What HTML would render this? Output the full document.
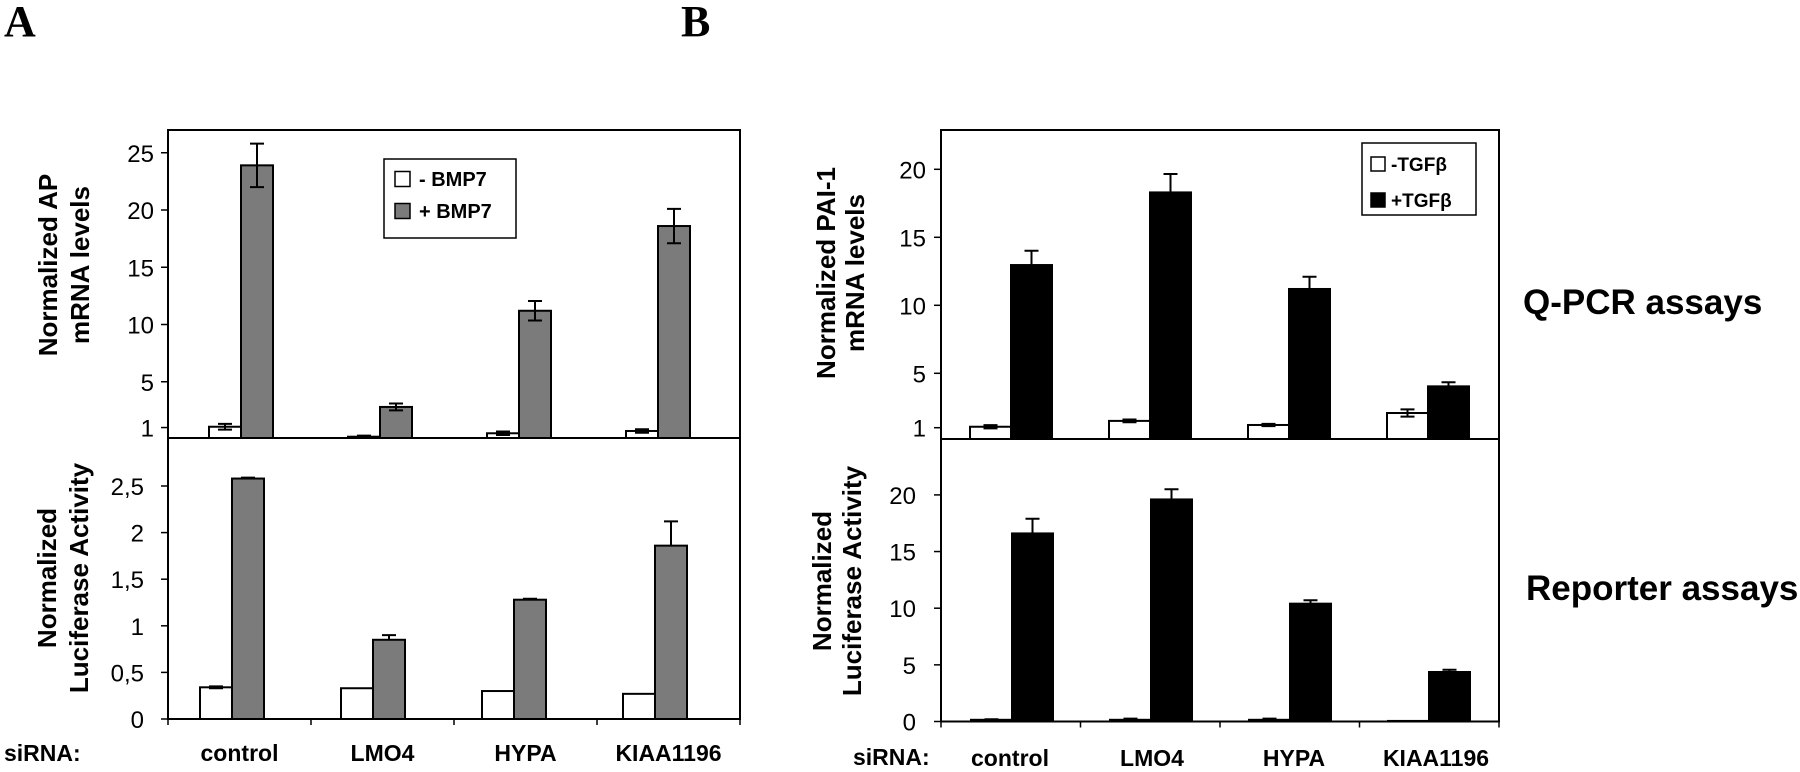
<!DOCTYPE html>
<html><head><meta charset="utf-8"><style>
html,body{margin:0;padding:0;background:#fff;}
svg{display:block;font-family:"Liberation Sans",Arial,sans-serif;}
</style></head><body>
<svg id="fig" width="1800" height="772" viewBox="0 0 1800 772" xmlns="http://www.w3.org/2000/svg">
<text x="4" y="36" font-family="Liberation Serif,serif" font-weight="bold" font-size="44">A</text>
<text x="681" y="36" font-family="Liberation Serif,serif" font-weight="bold" font-size="44">B</text>
<text font-weight="bold" font-size="26" text-anchor="middle" transform="translate(57,265) rotate(-90)">Normalized AP</text>
<text font-weight="bold" font-size="26" text-anchor="middle" transform="translate(89,265) rotate(-90)">mRNA levels</text>
<text font-weight="bold" font-size="26" text-anchor="middle" transform="translate(56,578) rotate(-90)">Normalized</text>
<text font-weight="bold" font-size="26" text-anchor="middle" transform="translate(88,578) rotate(-90)">Luciferase Activity</text>
<text font-weight="bold" font-size="26" text-anchor="middle" transform="translate(835,273) rotate(-90)">Normalized PAI-1</text>
<text font-weight="bold" font-size="26" text-anchor="middle" transform="translate(864,273) rotate(-90)">mRNA levels</text>
<text font-weight="bold" font-size="26" text-anchor="middle" transform="translate(831,581) rotate(-90)">Normalized</text>
<text font-weight="bold" font-size="26" text-anchor="middle" transform="translate(861,581) rotate(-90)">Luciferase Activity</text>
<text x="1523" y="314" font-weight="bold" font-size="35">Q-PCR assays</text>
<text x="1526" y="600" font-weight="bold" font-size="35">Reporter assays</text>
<text x="4" y="761" font-weight="bold" font-size="23">siRNA:</text>
<text x="853" y="765" font-weight="bold" font-size="23">siRNA:</text>
<g id="layer"></g>
</svg>
<script>
const categories = ["control", "LMO4", "HYPA", "KIAA1196"];
// Panel A top (AP mRNA)
const aTopMinus = [1.07, 0.2, 0.5, 0.7];
const aTopMinusErr = [0.25, 0.1, 0.15, 0.15];
const aTopPlus = [23.9, 2.8, 11.2, 18.6];
const aTopPlusErr = [1.9, 0.3, 0.85, 1.5];
const aTopTicks = [1, 5, 10, 15, 20, 25];
const aTopTickLabels = ["1", "5", "10", "15", "20", "25"];
// Panel A bottom (luciferase)
const aBotMinus = [0.34, 0.33, 0.30, 0.27];
const aBotMinusErr = [0.01, 0.0, 0.0, 0.0];
const aBotPlus = [2.58, 0.85, 1.28, 1.86];
const aBotPlusErr = [0.01, 0.05, 0.01, 0.26];
const aBotTicks = [0, 0.5, 1, 1.5, 2, 2.5];
const aBotTickLabels = ["0", "0,5", "1", "1,5", "2", "2,5"];
// Panel B top (PAI-1 mRNA)
const bTopMinus = [1.07, 1.5, 1.2, 2.08];
const bTopMinusErr = [0.12, 0.1, 0.08, 0.27];
const bTopPlus = [12.96, 18.3, 11.2, 4.04];
const bTopPlusErr = [1.05, 1.35, 0.9, 0.3];
const bTopTicks = [1, 5, 10, 15, 20];
const bTopTickLabels = ["1", "5", "10", "15", "20"];
// Panel B bottom (luciferase)
const bBotMinus = [0.15, 0.15, 0.15, 0.05];
const bBotMinusErr = [0.05, 0.1, 0.1, 0.0];
const bBotPlus = [16.6, 19.6, 10.4, 4.37];
const bBotPlusErr = [1.3, 0.9, 0.3, 0.2];
const bBotTicks = [0, 5, 10, 15, 20];
const bBotTickLabels = ["0", "5", "10", "15", "20"];

const NS = "http://www.w3.org/2000/svg";
const layer = document.getElementById("layer");
function mk(tag, attrs, parent) {
  const e = document.createElementNS(NS, tag);
  for (const k in attrs) e.setAttribute(k, attrs[k]);
  (parent || layer).appendChild(e);
  return e;
}

function panel(cfg) {
  const g = mk("g", {});
  
  
  const y = v => cfg.zero - v * cfg.ppu;
  const xc = i => cfg.c0 + i * cfg.step;
  for (let i = 0; i < categories.length; i++) {
    const c = xc(i);
    const series = [
      {v: cfg.minus[i], e: cfg.minusErr[i], x: c - cfg.bw, fill: "#fff", nm: "minus"},
      {v: cfg.plus[i], e: cfg.plusErr[i], x: c, fill: cfg.plusFill, nm: "plus"}
    ];
    for (const s of series) {
      const top = y(s.v);
      const bot = Math.min(cfg.zero, cfg.bottom);
      const r = mk("rect", {x: s.x, y: Math.min(top, bot), width: cfg.bw, height: Math.max(0.5, bot - top), fill: s.fill, stroke: "#000", "stroke-width": 2}, g);
      
      
      if (s.e > 0) {
        const cx = s.x + cfg.bw / 2;
        const twoSided = cfg.twoSided || s.nm === "minus";
        const y1 = y(s.v + s.e), y2 = twoSided ? y(s.v - s.e) : top;
        const eb = mk("path", {d: `M${cx},${y1}V${y2}M${cx-7},${y1}H${cx+7}` + (twoSided ? `M${cx-7},${y2}H${cx+7}` : ""), stroke: "#000", "stroke-width": 2, fill: "none"}, g);
        
        
      }
    }
  }
  for (let t = 0; t < cfg.ticks.length; t++) {
    const ty = y(cfg.ticks[t]);
    const tk = mk("line", {x1: cfg.left - 7, x2: cfg.left, y1: ty, y2: ty, stroke: "#000", "stroke-width": 1.5}, g);
    
    
    const tl = mk("text", {x: cfg.labelRight, y: ty + 9, "text-anchor": "end", "font-size": 24}, g);
    tl.textContent = cfg.tickLabels[t];
    
    
  }
  const fr = mk("rect", {x: cfg.left, y: cfg.top, width: cfg.right - cfg.left, height: cfg.bottom - cfg.top, fill: "none", stroke: "#000", "stroke-width": 2}, g);
  
  
}

panel({name: "panel-a-top", minus: aTopMinus, minusErr: aTopMinusErr, plus: aTopPlus, plusErr: aTopPlusErr,
  ticks: aTopTicks, tickLabels: aTopTickLabels, zero: 439, ppu: 11.45, c0: 241, step: 139, bw: 32,
  left: 168, right: 740, top: 130, bottom: 438, labelRight: 154, plusFill: "#7b7b7b", twoSided: true});
panel({name: "panel-a-bottom", minus: aBotMinus, minusErr: aBotMinusErr, plus: aBotPlus, plusErr: aBotPlusErr,
  ticks: aBotTicks, tickLabels: aBotTickLabels, zero: 719, ppu: 93.2, c0: 232, step: 141, bw: 32,
  left: 168, right: 740, top: 438, bottom: 719, labelRight: 144, plusFill: "#7b7b7b", twoSided: false});
panel({name: "panel-b-top", minus: bTopMinus, minusErr: bTopMinusErr, plus: bTopPlus, plusErr: bTopPlusErr,
  ticks: bTopTicks, tickLabels: bTopTickLabels, zero: 441.3, ppu: 13.6, c0: 1011, step: 139, bw: 41,
  left: 941, right: 1499, top: 130, bottom: 439, labelRight: 926, plusFill: "#000", twoSided: false});
panel({name: "panel-b-bottom", minus: bBotMinus, minusErr: bBotMinusErr, plus: bBotPlus, plusErr: bBotPlusErr,
  ticks: bBotTicks, tickLabels: bBotTickLabels, zero: 721.5, ppu: 11.33, c0: 1012, step: 139, bw: 41,
  left: 941, right: 1499, top: 439, bottom: 721.5, labelRight: 916, plusFill: "#000", twoSided: false});

function catAxis(left, step, base, labelStep, y0, labelY, nm) {
  for (let i = 0; i <= categories.length; i++) {
    const t = mk("line", {x1: left + i * step, x2: left + i * step, y1: y0, y2: y0 + 6, stroke: "#000", "stroke-width": 1.5});
    
    
  }
  for (let i = 0; i < categories.length; i++) {
    const l = mk("text", {x: base + i * labelStep, y: labelY, "text-anchor": "middle", "font-weight": "bold", "font-size": 23});
    l.textContent = categories[i];
    
    
  }
}
catAxis(168, 143, 239.5, 143, 719, 761, "a");
catAxis(941, 139.5, 1010, 142, 721.5, 766, "b");

function legend(x, y, w, h, items, fs, sw, sx, tx, rows, nm) {
  const g = mk("g", {});
  
  
  mk("rect", {x: x, y: y, width: w, height: h, fill: "#fff", stroke: "#000", "stroke-width": 1.5}, g);
  items.forEach((it, k) => {
    const ry = rows[k];
    const s = mk("rect", {x: sx, y: ry - sw / 2, width: sw, height: sw, fill: it.fill, stroke: "#000", "stroke-width": 1.5}, g);
    
    
    const t = mk("text", {x: tx, y: ry + fs * 0.36, "font-weight": "bold", "font-size": fs}, g);
    t.textContent = it.label;
    
    
  });
}
legend(384, 159, 132, 79, [{fill: "#fff", label: "- BMP7"}, {fill: "#7b7b7b", label: "+ BMP7"}], 20, 15, 395, 419, [179, 211], "legend-a");
legend(1362, 143, 114, 72, [{fill: "#fff", label: "-TGFβ"}, {fill: "#000", label: "+TGFβ"}], 19, 14, 1371, 1391, [164, 200], "legend-b");
</script>
</body></html>
